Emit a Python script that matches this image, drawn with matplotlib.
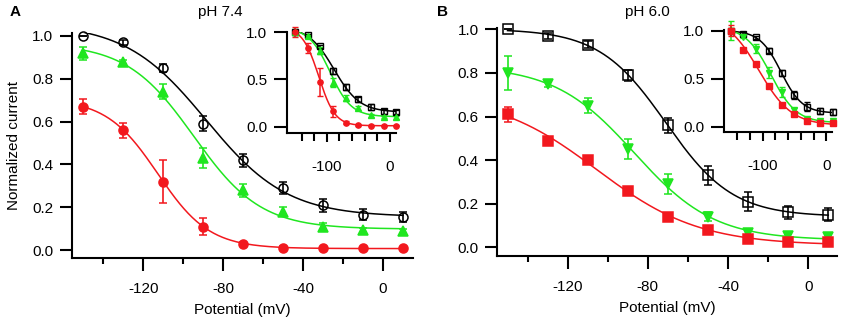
import numpy as np
import matplotlib
matplotlib.use('Agg')
import matplotlib.pyplot as plt

plt.rcParams['font.family'] = ['Liberation Sans', 'DejaVu Sans']
plt.rcParams['font.size'] = 11
plt.rcParams['axes.unicode_minus'] = False

RED = '#f2181e'
GREEN = '#20e620'

potential = np.array([-150, -130, -110, -90, -70, -50, -30, -10, 10])

# panel A, pH 7.4
a_black = np.array([1.00, 0.97, 0.85, 0.59, 0.42, 0.29, 0.21, 0.165, 0.155])
a_black_err = np.array([0.0, 0.01, 0.02, 0.035, 0.03, 0.03, 0.03, 0.025, 0.025])
a_green = np.array([0.92, 0.88, 0.74, 0.43, 0.28, 0.18, 0.11, 0.095, 0.09])
a_green_err = np.array([0.03, 0.01, 0.035, 0.045, 0.03, 0.02, 0.015, 0.01, 0.01])
a_red = np.array([0.67, 0.56, 0.32, 0.11, 0.03, 0.012, 0.008, 0.008, 0.008])
a_red_err = np.array([0.035, 0.035, 0.10, 0.04, 0.01, 0.005, 0.004, 0.004, 0.004])

# panel B, pH 6.0
b_black = np.array([1.00, 0.97, 0.93, 0.79, 0.56, 0.33, 0.21, 0.16, 0.15])
b_black_err = np.array([0.0, 0.015, 0.015, 0.025, 0.035, 0.045, 0.045, 0.03, 0.03])
b_green = np.array([0.80, 0.75, 0.65, 0.45, 0.29, 0.14, 0.065, 0.05, 0.046])
b_green_err = np.array([0.08, 0.015, 0.035, 0.045, 0.045, 0.02, 0.01, 0.01, 0.01])
b_red = np.array([0.61, 0.49, 0.40, 0.26, 0.14, 0.08, 0.037, 0.026, 0.022])
b_red_err = np.array([0.035, 0.01, 0.01, 0.01, 0.01, 0.01, 0.01, 0.01, 0.01])


def boltzmann_fit(v, y):
    vh = np.arange(-140, -30, 0.25)
    k = np.arange(4, 40, 0.1)
    VH, K = np.meshgrid(vh, k, indexing='ij')
    f = 1 / (1 + np.exp((v[None, None, :] - VH[..., None]) / K[..., None]))
    fm = f.mean(-1)
    ym = y.mean()
    slope = ((f - fm[..., None]) * (y - ym)).sum(-1) / ((f - fm[..., None]) ** 2).sum(-1)
    icpt = ym - slope * fm
    sse = ((icpt[..., None] + slope[..., None] * f - y) ** 2).sum(-1)
    i = np.unravel_index(np.argmin(sse), sse.shape)
    return VH[i], K[i], slope[i], icpt[i]


def boltzmann(v, p):
    vh, k, amp, base = p
    return base + amp / (1 + np.exp((v - vh) / k))


W, H = 843, 323
fig = plt.figure(figsize=(W / 100, H / 100), dpi=100)


def ax_px(left, top, right, bottom):
    return fig.add_axes([left / W, 1 - bottom / H, (right - left) / W, (bottom - top) / H])


def style(ax, lw=1.5):
    for s in ['top', 'right']:
        ax.spines[s].set_visible(False)
    for s in ['left', 'bottom']:
        ax.spines[s].set_linewidth(lw)
    ax.patch.set_alpha(0)


vfit = np.linspace(-150, 10, 300)


def draw_main(ax, series):
    for vals, err, color, marker, fill in series:
        p = boltzmann_fit(potential, vals)
        ax.plot(vfit, boltzmann(vfit, p), color=color, lw=1.1, zorder=2)
        ax.errorbar(potential, vals, yerr=err, fmt=marker, color=color, ms=6.5,
                    mfc=color if fill else 'none', mec=color, mew=1.1,
                    ecolor=color, elinewidth=1.2, capsize=3, capthick=1.2,
                    zorder=3, clip_on=False)
    style(ax)
    ax.set_xticks([-120, -80, -40, 0])
    ax.set_xticks([-140, -100, -60, -20], minor=True)
    ax.set_yticks([0, 0.2, 0.4, 0.6, 0.8, 1.0])
    ax.set_yticklabels(['0.0', '0.2', '0.4', '0.6', '0.8', '1.0'])
    ax.tick_params(which='major', direction='out', length=9, width=1.5, pad=4.5)
    ax.tick_params(axis='x', which='major', pad=8)
    ax.tick_params(axis='x', which='minor', direction='out', length=4.5, width=1.5)
    ax.set_xlabel('Potential (mV)', labelpad=5)


def draw_inset(ax, series):
    for vals, err, color, marker, fill in series:
        norm = vals / vals[0]
        p = boltzmann_fit(potential, norm)
        ax.plot(vfit, boltzmann(vfit, p), color=color, lw=1.1, zorder=2)
        ax.errorbar(potential, norm, yerr=err / vals[0], fmt=marker, color=color, ms=3.8,
                    mfc=color if fill else 'none', mec=color, mew=1.0,
                    ecolor=color, elinewidth=1.1, capsize=2, capthick=1.1,
                    zorder=3, clip_on=False)
    style(ax)
    ax.set_xticks([-100, 0])
    ax.set_xticks([-140, -120, -80, -60, -40, -20], minor=True)
    ax.set_yticks([0, 0.5, 1.0])
    ax.set_yticklabels(['0.0', '0.5', '1.0'])
    ax.tick_params(axis='y', direction='out', length=9.5, width=1.5, pad=5)
    ax.tick_params(axis='x', which='major', direction='out', length=6.5, width=1.5, pad=13)
    ax.tick_params(axis='x', which='minor', direction='out', length=5.5, width=1.5)


# panel A
axA = ax_px(72, 33, 413, 258)
draw_main(axA, [(a_black, a_black_err, 'black', 'o', False),
                (a_green, a_green_err, GREEN, '^', True),
                (a_red, a_red_err, RED, 'o', True)])
axA.set_xlim(-155.7, 15)
axA.set_ylim(-0.037, 1.014)
axA.set_ylabel('Normalized current', labelpad=8)

insA = ax_px(287.3, 31.5, 396, 132.5)
draw_inset(insA, [(a_black, a_black_err, 'black', 's', False),
                  (a_green, a_green_err, GREEN, '^', True),
                  (a_red, a_red_err, RED, 'o', True)])
insA.set_xlim(-162.5, 9.5)
insA.set_ylim(-0.061, 1.008)

# panel B
axB = ax_px(497.3, 28.3, 836.7, 256)
draw_main(axB, [(b_black, b_black_err, 'black', 's', False),
                (b_green, b_green_err, GREEN, 'v', True),
                (b_red, b_red_err, RED, 's', True)])
axB.set_xlim(-155.1, 14.2)
axB.set_ylim(-0.040, 1.005)

insB = ax_px(724.3, 30, 831.7, 132.3)
draw_inset(insB, [(b_black, b_black_err, 'black', 's', False),
                  (b_green, b_green_err, GREEN, 'v', True),
                  (b_red, b_red_err, RED, 's', True)])
insB.set_xlim(-160, 8.5)
insB.set_ylim(-0.058, 1.007)

fig.text(220 / W, 1 - 12 / H, 'pH 7.4', ha='center', va='center')
fig.text(647 / W, 1 - 12 / H, 'pH 6.0', ha='center', va='center')
fig.text(15 / W, 1 - 12 / H, 'A', ha='center', va='center', fontweight='bold')
fig.text(443 / W, 1 - 12 / H, 'B', ha='center', va='center', fontweight='bold')

fig.savefig('out.png', dpi=100)
